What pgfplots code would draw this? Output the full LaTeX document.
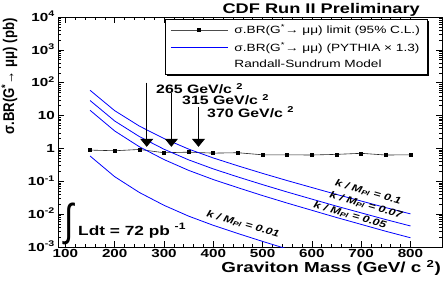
\documentclass[border=0pt]{standalone}
\usepackage{fontspec}
\setmainfont{Liberation Sans}[FakeStretch=1.3]
\newfontfamily\ylabfont{Liberation Sans}[FakeStretch=0.85]
\usepackage{graphicx}
\usepackage{pgfplots}
\pgfplotsset{compat=1.18}
\usetikzlibrary{arrows.meta}

\pgfplotstableread{
m lim
150 0.89
200 0.85
250 0.93
300 0.74
350 0.77
400 0.72
450 0.74
500 0.64
550 0.64
600 0.63
650 0.66
700 0.71
750 0.63
800 0.64
}\limittab

\pgfplotstableread{
m a b c d
150 58.9 28.8 14.5 0.589
200 14.1 6.84 3.40 0.138
250 4.79 2.30 1.127 0.0457
300 2.00 0.946 0.459 0.0186
350 0.955 0.449 0.215 0.0087
400 0.513 0.238 0.113 0.00457
450 0.295 0.1355 0.0638 0.00257
500 0.174 0.0791 0.0367 0.00148
550 0.105 0.0471 0.0217 0.00087
600 0.0646 0.0287 0.0131 0.00050
650 0.0398 0.0175 0.00791 0.00029
700 0.0251 0.01094 0.00488 0.00017
750 0.0158 0.00684 0.00301 0.00010
800 0.0102 0.00437 0.00191 0.00006
}\theorytab

\begin{document}
\begin{tikzpicture}
\path[use as bounding box] (0,0) rectangle (446pt,284pt);
\begin{axis}[
  at={(58pt,37pt)}, anchor=south west,
  scale only axis, width=384pt, height=230pt,
  xmin=85, xmax=864,
  ymode=log, ymin=1e-3, ymax=1e4,
  xtick={100,200,300,400,500,600,700,800},
  xticklabels={100,200,300,400,500,600,700,800},
  minor x tick num=4,
  ytick={1e-3,1e-2,1e-1,1,10,100,1000,10000},
  yticklabels={10\textsuperscript{-3},10\textsuperscript{-2},10\textsuperscript{-1},1,10,10\textsuperscript{2},10\textsuperscript{3},10\textsuperscript{4}},
  xticklabel style={font=\bfseries\fontsize{11.7}{12}\selectfont, anchor=north, inner sep=0pt, yshift=-2pt},
  yticklabel style={font=\bfseries\fontsize{11.7}{12}\selectfont, anchor=base east, inner sep=0pt, xshift=-3pt, yshift=-4.2pt},
  tick align=inside,
  major tick length=6pt, minor tick length=3pt,
  every tick/.style={black, line width=0.5pt},
  axis line style={line width=0.8pt},
  clip=true,
  legend style={name=leg, at={(0.961,0.991)}, anchor=north east, draw=none,
    fill=white,
    font=\fontsize{10.5}{12}\selectfont, inner xsep=5pt, inner ysep=3.5pt,
    row sep=3pt, /tikz/every odd column/.append style={column sep=4pt}},
  legend cell align=left,
]
\addplot[black!85, line width=0.6pt, mark=square*, mark size=1.5pt, mark options={fill=black, draw=black}, forget plot] table[x=m, y=lim] {\limittab};
\addplot[draw=blue, line width=0.8pt, forget plot] table[x=m, y=a] {\theorytab};
\addplot[draw=blue, line width=0.8pt, forget plot] table[x=m, y=b] {\theorytab};
\addplot[draw=blue, line width=0.8pt, forget plot] table[x=m, y=c] {\theorytab};
\addplot[draw=blue, line width=0.8pt, forget plot] table[x=m, y=d] {\theorytab};

\addlegendimage{legend image code/.code={\draw[black!70, line width=0.6pt] (0pt,0pt) -- (57pt,0pt); \fill[black] (26.5pt,-1.5pt) rectangle (29.5pt,1.5pt);}}
\addlegendentry{σ.BR(G\textsuperscript{*}→ μμ) limit (95\% C.L.)}
\addlegendimage{legend image code/.code={\draw[color=blue, line width=1pt] (0pt,0pt) -- (57pt,0pt);}}
\addlegendentry{σ.BR(G\textsuperscript{*}→ μμ) (PYTHIA × 1.3)}
\addlegendimage{legend image code/.code={}}
\addlegendentry{Randall-Sundrum Model}

\draw[line width=0.8pt, -{Triangle[width=13pt,length=8pt]}] (axis cs:265,100) -- (axis cs:265,1.12);
\draw[line width=0.8pt, -{Triangle[width=13pt,length=8pt]}] (axis cs:315,47) -- (axis cs:315,1.12);
\draw[line width=0.8pt, -{Triangle[width=13pt,length=8pt]}] (axis cs:370,18) -- (axis cs:370,1.12);
\end{axis}

% legend frame and shadow
\draw[black, line width=0.6pt] (leg.south west) rectangle (leg.north east);
\fill[black] ([xshift=2pt,yshift=-1.6pt]leg.south west) rectangle (leg.south east);
\fill[black] ([xshift=1.6pt,yshift=-1.6pt]leg.south east) rectangle ([yshift=-2pt]leg.north east);

% annotations
\node[anchor=base east, inner sep=0pt, font=\bfseries\fontsize{14}{14}\selectfont] at (420pt,270pt) {CDF Run II Preliminary};
\node[anchor=base east, inner sep=0pt, font=\bfseries\fontsize{14.5}{15}\selectfont] at (441pt,11.3pt) {Graviton Mass (GeV/ c \textsuperscript{2})};
\node[rotate=90, anchor=base east, inner sep=0pt, font=\ylabfont\bfseries\fontsize{15.5}{15}\selectfont] at (14pt,266pt) {σ.BR(G\textsuperscript{*}→ μμ) (pb)};

\node[anchor=base west, inner sep=0pt, font=\bfseries\fontsize{12.2}{13}\selectfont] at (156pt,190pt) {265 GeV/c \textsuperscript{2}};
\node[anchor=base west, inner sep=0pt, font=\bfseries\fontsize{12.2}{13}\selectfont] at (182pt,179.5pt) {315 GeV/c \textsuperscript{2}};
\node[anchor=base west, inner sep=0pt, font=\bfseries\fontsize{12.2}{13}\selectfont] at (207pt,167pt) {370 GeV/c \textsuperscript{2}};

\node[rotate=-16, inner sep=0pt, font=\bfseries\itshape\fontsize{9.6}{10}\selectfont] at (368pt,92pt) {k / M\textsubscript{Pl} = 0.1};
\node[rotate=-16, inner sep=0pt, font=\bfseries\itshape\fontsize{9.6}{10}\selectfont] at (366pt,79pt) {k / M\textsubscript{Pl} = 0.07};
\node[rotate=-16, inner sep=0pt, font=\bfseries\itshape\fontsize{9.6}{10}\selectfont] at (350pt,69pt) {k / M\textsubscript{Pl} = 0.05};
\node[rotate=-16, inner sep=0pt, font=\bfseries\itshape\fontsize{9.6}{10}\selectfont] at (243pt,60pt) {k / M\textsubscript{Pl} = 0.01};

\node[inner sep=0pt] at (69pt,60pt) {\scalebox{1}[1.7]{\fontsize{26}{26}\selectfont ∫}};
\node[anchor=base west, inner sep=0pt, font=\bfseries\fontsize{13.3}{14}\selectfont] at (78pt,49pt) {Ldt = 72 pb \textsuperscript{-1}};
\end{tikzpicture}
\end{document}
